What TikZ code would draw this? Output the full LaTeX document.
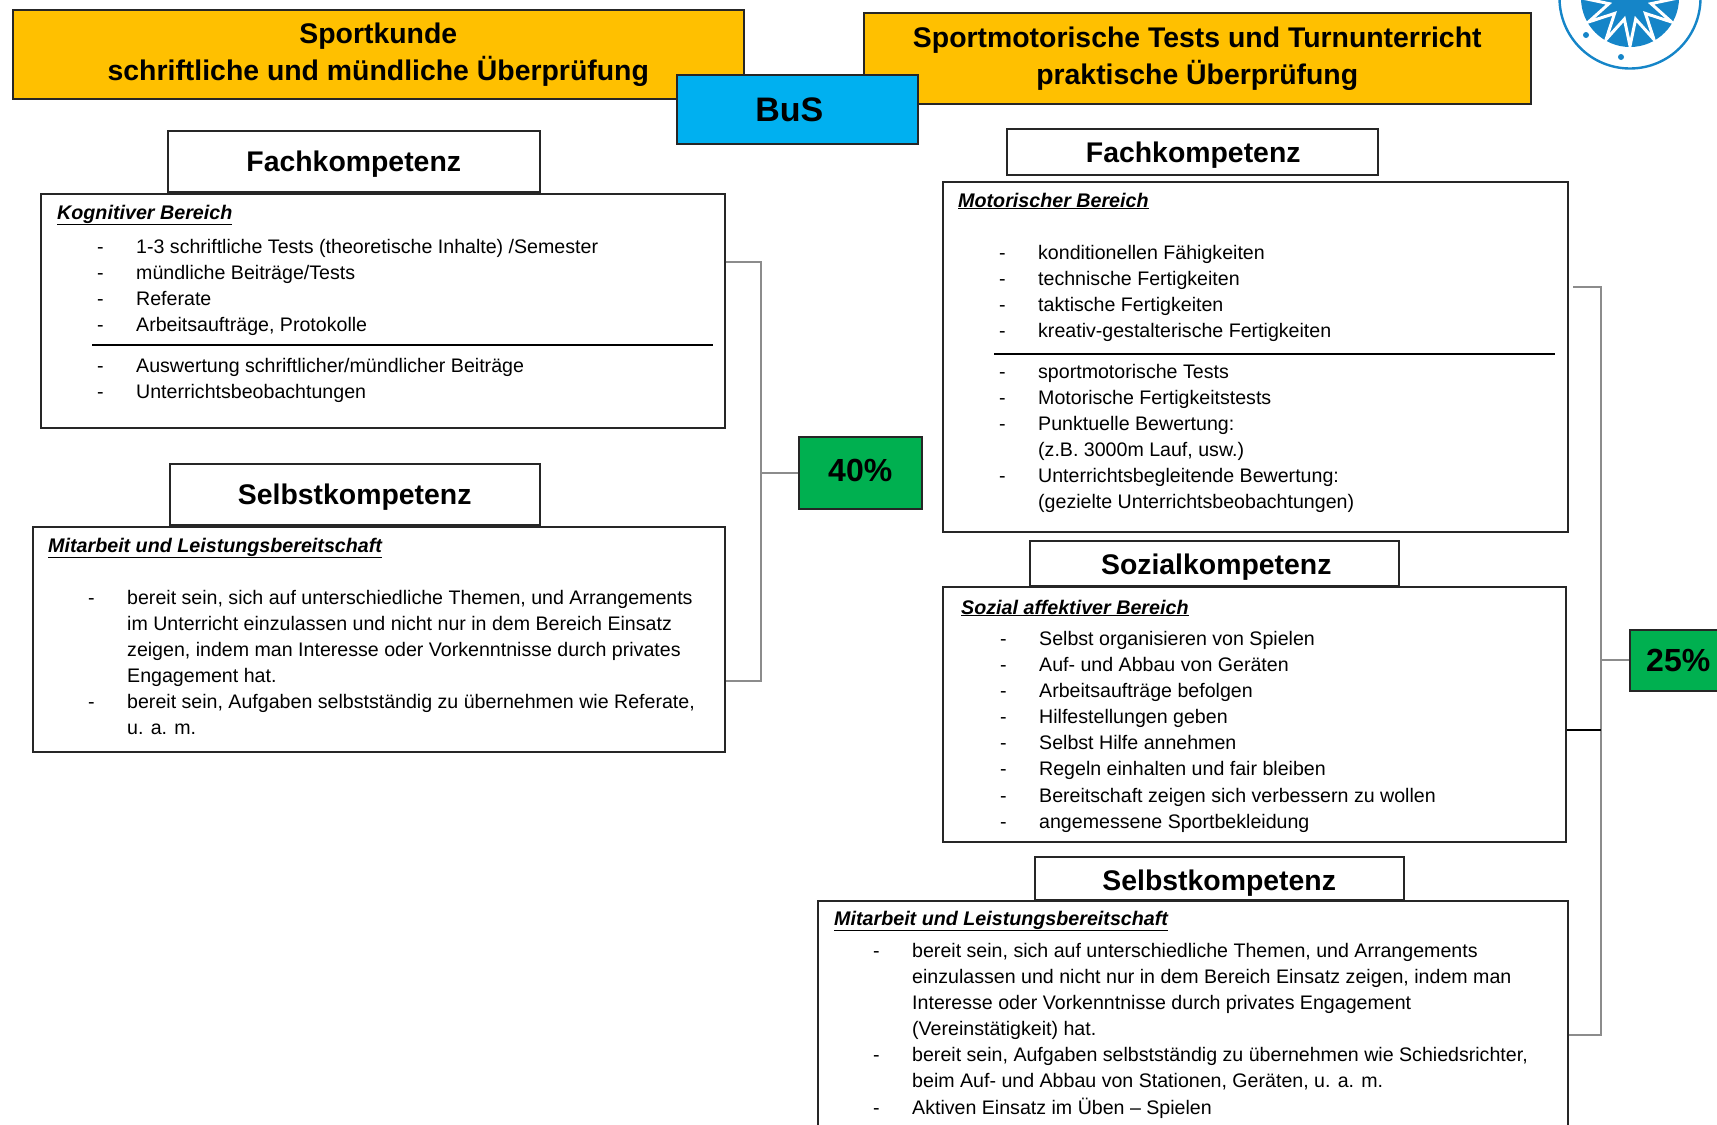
\documentclass[tikz,border=0pt]{standalone}
\usepackage{fontspec}
\setmainfont{Liberation Sans}
\usetikzlibrary{shapes.geometric,positioning}
\definecolor{gelb}{HTML}{FFC000}
\definecolor{hblau}{HTML}{00B0F0}
\definecolor{gruen}{HTML}{00B050}
\definecolor{logoblau}{HTML}{1585C8}
\newcommand{\pli}[1]{\makebox[79pt][l]{\hspace{40pt}-}#1}
\newcommand{\nli}[1]{\hspace{79pt}#1}
\begin{document}
\begin{tikzpicture}[x=1pt,y=-1pt,
    box/.style={rectangle, draw=black!85, line width=1.5pt, anchor=north west, inner sep=0pt, xshift=-1pt, yshift=1pt},
    titel/.style={box, fill=gelb, align=center, font=\fontsize{28.4}{37}\selectfont\bfseries},
    kompetenz/.style={box, fill=white, text depth=0pt, font=\fontsize{28.4}{34}\selectfont\bfseries},
    prozent/.style={box, fill=gruen, font=\fontsize{32}{36}\selectfont\bfseries},
    bereich/.style={anchor=west, inner sep=0pt, font=\fontsize{19.7}{24}\selectfont\bfseries\itshape},
    liste/.style={anchor=north west, inner sep=0pt, align=left, font=\fontsize{19.6}{26.1}\selectfont},
    klammer/.style={draw=black!45, line width=2.4pt},
    trenn/.style={draw=black, line width=1.3pt}]
    \clip (0,0) rectangle (1717,1125);

    % logo
    \node[circle, draw=logoblau, line width=2.4pt, minimum size=141pt, inner sep=0pt] (logo) at (1630,-2) {};
    \node[circle, fill=logoblau, minimum size=98pt, inner sep=0pt] (scheibe) at (logo.center) {};
    \node[star, star points=12, star point ratio=2.2, minimum size=96pt, inner sep=0pt, fill=logoblau, draw=white, line width=3pt] (stern) at (logo.center) {};
    \node[circle, fill=logoblau, minimum size=6pt, inner sep=0pt] (punkta) at (1586,35) {};
    \node[circle, fill=logoblau, minimum size=6pt, inner sep=0pt] (punktb) at (1621,57) {};

    % kopf
    \node[titel, minimum width=731pt, minimum height=89pt] (sportkunde) at (13,10) {Sportkunde\\schriftliche und mündliche Überprüfung};
    \node[titel, minimum width=667pt, minimum height=91pt] (turnen) at (864,13) {Sportmotorische Tests und Turnunterricht\\praktische Überprüfung};
    \node[box, fill=hblau, minimum width=241pt, minimum height=69pt, text depth=0pt, font=\fontsize{34}{38}\selectfont\bfseries] (bus) at (677,75) {BuS\rule{16pt}{0pt}};

    % linke spalte
    \node[box, minimum width=684pt, minimum height=234pt] (kognitiv) at (41,194) {};
    \node[kompetenz, minimum width=372pt, minimum height=61pt] (fachl) at (168,131) {Fachkompetenz};
    \node[bereich] (kognitivt) at (57,215) {\underline{Kognitiver Bereich}};
    \node[liste] (kognitiva) at (57,239) {\pli{1-3 schriftliche Tests (theoretische Inhalte) /Semester}\\\pli{mündliche Beiträge/Tests}\\\pli{Referate}\\\pli{Arbeitsaufträge, Protokolle}};
    \coordinate (trennla) at (92,345);
    \coordinate (trennlb) at (713,345);
    \draw[trenn] (trennla) -- (trennlb);
    \node[liste] (kognitivb) at (57,358) {\pli{Auswertung schriftlicher/mündlicher Beiträge}\\\pli{Unterrichtsbeobachtungen}};

    \node[box, minimum width=692pt, minimum height=225pt] (mitarbeitl) at (33,527) {};
    \node[kompetenz, minimum width=370pt, minimum height=61pt] (selbstl) at (170,464) {Selbstkompetenz};
    \node[bereich] (mitarbeitlt) at (48,548) {\underline{Mitarbeit und Leistungsbereitschaft}};
    \node[liste] (mitarbeitla) at (48,590) {\pli{bereit sein, sich auf unterschiedliche Themen, und Arrangements}\\\nli{im Unterricht einzulassen und nicht nur in dem Bereich Einsatz}\\\nli{zeigen, indem man Interesse oder Vorkenntnisse durch privates}\\\nli{Engagement hat.}\\\pli{bereit sein, Aufgaben selbstständig zu übernehmen wie Referate,}\\\nli{u. a. m.}};

    \node[prozent, minimum width=123pt, minimum height=72pt] (vierzig) at (799,437) {\raisebox{5pt}{40\%}};
    \coordinate (klkn) at (761,0 |- vierzig.west);
    \draw[klammer] (kognitiv.east |- 0,262) -| (klkn) |- (mitarbeitl.east |- 0,681);
    \draw[klammer] (klkn) -- (vierzig.west);

    % rechte spalte
    \node[box, minimum width=625pt, minimum height=350pt] (motorisch) at (943,182) {};
    \node[kompetenz, minimum width=371pt, minimum height=46pt] (fachr) at (1007,129) {\hspace{2pt}Fachkompetenz};
    \node[bereich] (motorischt) at (958,201) {\underline{Motorischer Bereich}};
    \node[liste] (motorischa) at (959,245) {\pli{konditionellen Fähigkeiten}\\\pli{technische Fertigkeiten}\\\pli{taktische Fertigkeiten}\\\pli{kreativ-gestalterische Fertigkeiten}};
    \coordinate (trennra) at (994,354);
    \coordinate (trennrb) at (1555,354);
    \draw[trenn] (trennra) -- (trennrb);
    \node[liste] (motorischb) at (959,364) {\pli{sportmotorische Tests}\\\pli{Motorische Fertigkeitstests}\\\pli{Punktuelle Bewertung:}\\\nli{(z.B. 3000m Lauf, usw.)}\\\pli{Unterrichtsbegleitende Bewertung:}\\\nli{(gezielte Unterrichtsbeobachtungen)}};

    \node[box, minimum width=623pt, minimum height=255pt] (sozial) at (943,587) {};
    \node[kompetenz, minimum width=369pt, minimum height=45pt] (soziall) at (1030,541) {\hspace{4pt}\raisebox{-2pt}{Sozialkompetenz}};
    \node[bereich] (sozialt) at (961,608) {\underline{Sozial affektiver Bereich}};
    \node[liste] (soziala) at (960,631) {\pli{Selbst organisieren von Spielen}\\\pli{Auf- und Abbau von Geräten}\\\pli{Arbeitsaufträge befolgen}\\\pli{Hilfestellungen geben}\\\pli{Selbst Hilfe annehmen}\\\pli{Regeln einhalten und fair bleiben}\\\pli{Bereitschaft zeigen sich verbessern zu wollen}\\\pli{angemessene Sportbekleidung}};

    \node[kompetenz, minimum width=369pt, minimum height=43pt] (selbstr) at (1035,857) {\raisebox{-4pt}{Selbstkompetenz}};
    \node[box, minimum width=750pt, minimum height=260pt] (mitarbeitr) at (818,901) {};
    \node[bereich] (mitarbeitrt) at (834,921) {\underline{Mitarbeit und Leistungsbereitschaft}};
    \node[liste] (mitarbeitra) at (833,943) {\pli{bereit sein, sich auf unterschiedliche Themen, und Arrangements}\\\nli{einzulassen und nicht nur in dem Bereich Einsatz zeigen, indem man}\\\nli{Interesse oder Vorkenntnisse durch privates Engagement}\\\nli{(Vereinstätigkeit) hat.}\\\pli{bereit sein, Aufgaben selbstständig zu übernehmen wie Schiedsrichter,}\\\nli{beim Auf- und Abbau von Stationen, Geräten, u. a. m.}\\\pli{Aktiven Einsatz im Üben – Spielen}};

    \node[prozent, minimum width=97pt, minimum height=61pt] (fuenfundzwanzig) at (1630,630) {25\%};
    \coordinate (klkr) at (1601,0 |- fuenfundzwanzig.west);
    \draw[klammer] (1573,287) -| (klkr) |- (mitarbeitr.east |- 0,1035);
    \draw[klammer] (klkr) -- (fuenfundzwanzig.west);
    \draw[trenn, line width=1.5pt] (sozial.east |- 0,730) -- (klkr |- 0,730);
  \end{tikzpicture}
\end{document}
